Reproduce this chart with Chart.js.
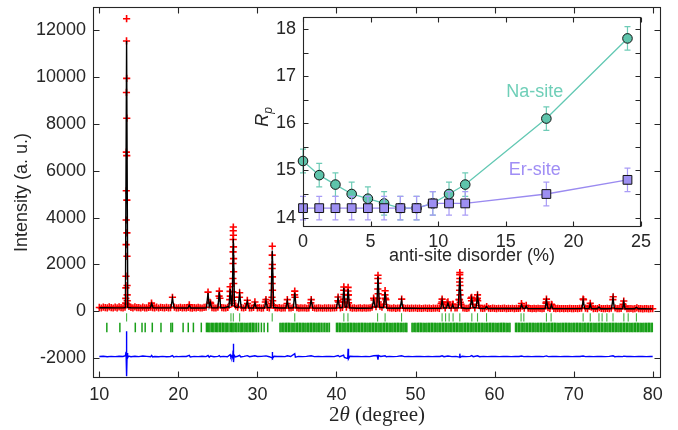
<!DOCTYPE html>
<html><head><meta charset="utf-8">
<script src="https://cdn.jsdelivr.net/npm/chart.js@4"></script>
<style>
html,body{margin:0;padding:0;background:#fff;}
#wrap{position:relative;width:678px;height:430px;overflow:hidden;}
#main{position:absolute;left:0;top:0;}
#inset{position:absolute;left:240px;top:10px;}
</style></head><body>
<div id="wrap"><canvas id="main" width="678" height="430"></canvas><canvas id="inset" width="420" height="265"></canvas></div>
<script>
// ---------------- main pattern data ----------------
const mainXTicks = [10, 20, 30, 40, 50, 60, 70, 80];
const mainYTicks = [-2000, 0, 2000, 4000, 6000, 8000, 10000, 12000];

// observed scan (background part), 2theta grid start/step and counts
const scanStart = 10, scanStep = 0.25;
const obsScan = [
 165,140,180,155, 150,185,160,140, 175,150,190,160, 145,180,2350,210, 170,150,185,155,
 160,140,175,150, 145,170,180,155, 150,175,140,165, 160,145,170,150, 155,600,175,150,
 145,170,150,160, 140,165,150,135, 160,145,170,150, 140,165,175,820, 380,160,150,140,
 175,560,160,150, 140,170,500,330, 1190,230,180,790, 160,140,170,330, 150,140,165,250,
 145,160,135,150, 400,170,150,330, 260,155,140,160, 135,150,140,330, 150,140,165,600,
 160,135,150,140, 145,130,150,360, 170,140,135,150, 140,130,145,135, 150,135,140,145,
 160,400,150,170, 400,180,700,160, 135,150,130,140, 145,130,150,135, 140,150,180,480,
 200,1540,220,180, 300,500,160,140, 130,145,125,140, 135,520,150,130, 140,125,135,130,
 140,125,135,120, 130,140,125,135, 120,135,130,140, 125,330,300,150, 370,250,140,300,
 140,150,500,300, 145,130,125,140, 560,300,150,520, 250,130,125,135, 200,130,120,135,
 125,115,130,120, 125,135,115,125, 120,130,115,125, 120,130,220,135, 250,130,120,115,
 125,115,130,120, 115,125,350,160, 120,280,125,115, 125,115,120,110, 120,110,125,115,
 110,120,115,125, 130,500,135,115, 220,180,115,120, 115,160,120,110, 115,125,110,130,
 620,140,115,110, 120,300,200,115, 110,120,105,115, 150,110,115,105, 110,115,105,110,
 110
];

// observed points on the Bragg peaks [2theta, counts]
const obsPeaks = [
 [13.45,12500],[13.44,11550],[13.46,9950],[13.43,9350],[13.47,8250],[13.42,6800],[13.47,6650],[13.41,5150],
 [13.48,4750],[13.40,3900],[13.49,3350],[13.39,2850],[13.37,1500],[13.51,1100],[13.36,1000],[13.52,700],
 [13.35,550],[13.53,450],[13.34,350],[13.56,300],
 [16.60,350],[16.65,250],[21.38,280],[24.08,350],[25.18,860],[25.15,650],
 [26.55,1050],[26.54,850],[26.57,650],
 [26.95,3600],[26.94,3440],[26.96,3250],[26.93,3070],[26.97,2750],[26.92,2540],[26.98,2250],[26.91,2040],
 [26.99,1690],[26.90,1400],[26.89,830],[27.02,600],[26.87,450],
 [27.73,600],[28.72,470],[29.68,400],[31.08,500],
 [31.88,2780],[31.87,2400],[31.89,2000],[31.86,1830],[31.90,1470],[31.85,1190],[31.91,900],[31.84,600],[31.93,450],
 [33.78,500],[34.72,860],[34.70,700],[36.80,500],[40.20,610],[40.18,450],
 [40.93,1040],[40.92,900],[40.94,720],[40.91,520],[40.96,380],
 [41.47,1020],[41.46,870],[41.48,700],[41.45,500],[41.52,360],
 [44.70,560],[45.24,1400],[45.26,1200],[45.23,950],[45.27,750],[45.22,550],[45.29,400],
 [46.15,880],[46.13,700],[46.17,550],[53.36,520],[53.34,400],[54.10,400],[54.70,300],
 [55.60,1650],[55.59,1560],[55.61,1400],[55.58,1250],[55.62,1100],[55.57,900],[55.63,700],[55.56,500],[55.65,380],
 [57.10,600],[57.08,450],[57.84,700],[57.82,560],[57.86,450],[63.40,330],[66.56,520],[66.54,400],
 [67.19,300],[71.20,520],[72.10,340],[74.96,500],[76.34,440]
];

// calculated profile [2theta, counts]
const calcProfile = [
 [10,150],[11,150],[12,148],[13,148],[13.3,160],[13.45,11550],[13.6,160],[14,150],[15,146],[16,145],
 [16.45,148],[16.62,330],[16.8,148],[17.5,145],[18.5,144],[19.05,150],[19.25,560],[19.45,150],[20.5,142],
 [21.2,142],[21.38,260],[21.55,142],[22.5,140],[23.2,142],[23.55,150],[23.75,780],[23.9,200],[24.05,380],
 [24.2,150],[24.7,145],[25.0,150],[25.18,830],[25.35,150],[25.9,150],[26.3,200],[26.4,170],[26.55,950],
 [26.7,250],[26.8,260],[26.95,3100],[27.1,220],[27.3,170],[27.55,160],[27.75,740],[27.95,150],[28.5,142],
 [28.72,430],[28.9,142],[29.5,140],[29.68,360],[29.85,140],[30.5,138],[30.9,140],[31.08,470],[31.25,150],
 [31.7,160],[31.88,2600],[32.05,160],[32.8,138],[33.6,140],[33.78,460],[33.95,140],[34.55,145],[34.72,800],
 [34.9,150],[35.5,137],[36.6,137],[36.8,480],[37.0,137],[38.0,135],[39.0,134],[40.0,140],[40.2,560],
 [40.4,150],[40.75,160],[40.93,1000],[41.1,180],[41.3,180],[41.47,950],[41.65,150],[42.5,132],[43.5,131],
 [44.5,140],[44.7,500],[44.9,170],[45.1,180],[45.25,1480],[45.45,170],[45.95,150],[46.15,820],[46.35,140],
 [47.2,128],[48.05,130],[48.23,480],[48.4,130],[49.5,127],[50.5,126],[51.5,125],[52.5,124],[53.2,130],
 [53.36,480],[53.55,140],[53.9,140],[54.1,350],[54.3,140],[54.55,135],[54.7,280],[54.85,135],[55.4,150],
 [55.6,1470],[55.8,150],[56.4,122],[56.9,130],[57.1,560],[57.3,150],[57.65,150],[57.84,660],[58.05,130],
 [58.8,122],[58.98,200],[59.15,121],[60.5,120],[61.5,119],[62.5,118],[63.25,120],[63.4,280],[63.6,125],
 [63.85,120],[64.0,220],[64.15,118],[65.5,116],[66.4,120],[66.56,470],[66.75,125],[67.05,118],[67.19,280],
 [67.35,116],[68.5,114],[69.5,113],[70.5,112],[71.05,115],[71.2,470],[71.4,118],[71.95,115],[72.1,300],
 [72.25,112],[73.0,111],[73.2,180],[73.4,111],[74.0,110],[74.8,115],[74.98,570],[75.15,115],[76.2,110],
 [76.34,400],[76.5,110],[77.7,108],[77.94,170],[78.15,108],[79,106],[80,105]
];

// difference (obs - calc) [2theta, counts], plotted with an offset
const diffOffset = -1930;
const diffCurve = [
 [10,0],[10.5,10],[11,-10],[11.5,5],[12,-5],[12.5,10],[13,0],[13.3,30],[13.38,200],[13.42,-450],[13.45,1080],
 [13.48,-840],[13.52,150],[13.58,-60],[13.7,20],[14,-10],[14.5,10],[15,-5],[15.5,20],[16,5],[16.5,-10],
 [16.62,45],[16.75,-20],[17,0],[17.5,-15],[18,5],[18.5,-10],[19,0],[19.25,40],[19.4,-25],[19.7,5],[20,-5],
 [20.5,5],[21,0],[21.38,50],[21.5,-20],[22,5],[22.5,-5],[23,10],[23.5,-5],[23.75,40],[23.9,-30],[24.05,20],
 [24.5,-10],[25,5],[25.18,35],[25.3,-15],[25.7,5],[26.2,-10],[26.55,80],[26.65,-40],[26.8,20],[26.88,-60],
 [26.92,250],[26.95,-240],[26.97,545],[27.0,-240],[27.05,60],[27.2,-20],[27.5,10],[27.75,50],[27.9,-20],
 [28.3,5],[28.72,35],[29,-10],[29.68,30],[30,0],[30.5,5],[31.08,25],[31.5,-10],[31.85,-60],[31.88,190],
 [31.92,-80],[32.1,10],[32.5,0],[33,5],[33.5,-5],[33.78,30],[34.2,0],[34.72,120],[34.8,-30],[35.2,5],
 [35.7,-5],[36.2,5],[36.8,30],[37.2,-5],[37.7,5],[38.2,-5],[38.7,5],[39.2,0],[39.7,-5],[40.2,40],[40.4,-10],
 [40.9,60],[41.0,-40],[41.42,-90],[41.47,330],[41.52,-100],[41.7,10],[42.2,0],[42.7,5],[43.2,-5],[43.7,5],
 [44.2,-5],[44.7,30],[45.15,40],[45.25,-140],[45.32,40],[45.6,0],[46.15,30],[46.3,-15],[46.7,5],[47.2,-5],
 [47.7,5],[48.23,30],[48.6,-5],[49.1,5],[49.6,-5],[50.1,5],[50.6,0],[51.1,-5],[51.6,5],[52.1,-5],[52.6,5],
 [53.1,0],[53.36,30],[53.6,-10],[54.1,20],[54.6,-5],[55.1,5],[55.55,-30],[55.6,120],[55.65,-40],[55.9,10],
 [56.4,-5],[56.9,5],[57.1,35],[57.3,-10],[57.84,30],[58.1,-10],[58.6,5],[59.1,-5],[59.6,5],[60.1,0],
 [60.6,-5],[61.1,5],[61.6,0],[62.1,-5],[62.6,5],[63.1,0],[63.4,20],[63.7,-5],[64.2,5],[64.7,-5],[65.2,0],
 [65.7,5],[66.2,-5],[66.56,25],[66.8,-5],[67.3,5],[67.8,0],[68.3,-5],[68.8,5],[69.3,0],[69.8,-5],[70.3,5],
 [70.8,0],[71.2,20],[71.5,-5],[72.0,5],[72.5,-5],[73.0,5],[73.5,0],[74.0,-5],[74.5,5],[74.98,30],[75.2,-10],
 [75.7,5],[76.2,-5],[76.34,15],[76.7,0],[77.2,5],[77.7,-5],[78.2,5],[78.7,0],[79.2,-5],[79.7,5],[80,0]
];

// Bragg reflection positions (2theta)
const phase1Row = -260, phase2Row = -690;
const phase1Refl = [13.45,26.65,26.95,27.75,31.87,34.72,40.93,41.45,45.2,46.15,48.23,53.36,53.8,54.25,54.75,
 55.6,57.12,57.84,58.98,63.35,63.7,66.56,67.15,71.2,72.1,73.2,73.6,74.2,74.98,76.35,76.9,77.94];
const phase2Refl = [10.95,12.6,14.55,15.4,15.8,16.7,17.8,19.05,19.25,20.6,21.25,21.9,22.9,
 23.55,23.7,23.85,24.0,24.2,24.35,24.5,24.7,24.85,25.0,25.2,25.35,25.55,25.7,25.9,26.05,26.2,26.4,26.6,26.75,
 26.9,27.05,27.25,27.4,27.6,27.8,27.95,28.1,28.3,28.45,28.65,28.8,29.0,29.15,29.35,29.5,29.7,29.9,30.15,30.5,
 30.85,31.3,
 32.85,33.0,33.2,33.35,33.55,33.7,33.9,34.05,34.25,34.4,34.6,34.75,34.95,35.1,35.3,35.45,35.65,35.8,36.0,
 36.15,36.35,36.5,36.7,36.85,37.05,37.2,37.4,37.55,37.75,37.9,38.1,38.3,38.5,38.7,38.9,39.1,
 40.0,40.15,40.35,40.5,40.7,40.85,41.05,41.2,41.4,41.55,41.75,41.9,42.1,42.25,42.45,42.6,42.8,42.95,43.15,
 43.3,43.5,43.65,43.85,44.0,44.2,44.35,44.55,44.7,44.9,45.05,45.25,45.4,45.6,45.75,45.95,46.1,46.3,46.45,
 46.65,46.8,47.0,47.15,47.35,47.5,47.7,47.85,48.05,48.2,48.4,48.55,48.75,48.9,49.55,49.7,49.9,50.05,50.25,
 50.4,50.6,50.75,50.95,51.1,51.3,51.45,51.65,51.8,52.0,52.15,52.35,52.5,52.7,52.85,53.05,53.2,53.4,53.55,
 53.75,53.9,54.1,54.25,54.45,54.6,54.8,54.95,55.15,55.3,55.5,55.65,55.85,56.0,56.2,56.35,56.55,56.7,56.9,
 57.05,57.25,57.4,57.6,57.75,57.95,58.1,58.3,58.45,58.65,58.8,59.0,59.15,59.35,59.5,59.7,59.85,60.05,60.2,
 60.4,60.55,60.75,60.9,61.1,61.25,61.45,61.6,61.8,61.95,
 62.65,62.8,63.0,63.15,63.35,63.5,63.7,63.85,64.05,64.2,64.4,64.55,64.75,64.9,65.1,65.25,65.45,65.6,65.8,
 65.95,66.15,66.3,66.5,66.65,66.85,67.0,67.2,67.35,67.55,67.7,67.9,68.05,68.25,68.4,68.6,68.75,68.95,69.1,
 69.3,69.45,69.65,69.8,70.0,70.15,70.35,70.5,70.7,70.85,71.05,71.2,71.4,71.55,71.75,71.9,72.1,72.25,72.45,
 72.6,72.8,72.95,73.15,73.3,73.5,73.65,73.85,74.0,74.2,74.35,74.55,74.7,74.9,75.05,75.25,75.4,75.6,75.75,
 75.95,76.1,76.3,76.45,76.65,76.8,77.0,77.15,77.35,77.5,77.7,77.85,78.05,78.2,78.4,78.55,78.75,78.9,79.1,
 79.25,79.45,79.6,79.8,79.95];

// ---------------- inset data ----------------
const disorder = [0, 1.2, 2.4, 3.6, 4.8, 6.0, 7.2, 8.4, 9.6, 10.8, 12, 18, 24];
const naRp  = [15.2, 14.9, 14.7, 14.5, 14.4, 14.3, 14.2, 14.2, 14.3, 14.5, 14.7, 16.1, 17.8];
const naErr = [0.25,0.25,0.25,0.25,0.25,0.25,0.25,0.25,0.25,0.25,0.25,0.25,0.25];
const erRp  = [14.2, 14.2, 14.2, 14.2, 14.2, 14.2, 14.2, 14.2, 14.3, 14.3, 14.3, 14.5, 14.8];
const erErr = [0.25,0.25,0.25,0.25,0.25,0.25,0.25,0.25,0.25,0.25,0.25,0.25,0.25];
const insetXTicks = [0, 5, 10, 15, 20, 25];
const insetYTicks = [14, 15, 16, 17, 18];
const insetYMarks = [14, 14.5, 15, 15.5, 16, 16.5, 17, 17.5, 18];

// ---------------- styling ----------------
const SANS = "'Liberation Sans', Arimo, Arial, Helvetica, sans-serif";
const SERIF = "'Liberation Serif', 'Times New Roman', serif";
const INK = '#262626';
Chart.defaults.font.family = SANS;
Chart.defaults.color = INK;

const framePlugin = {
  id: 'frame',
  afterDatasetsDraw(chart, args, o) {
    const {ctx, chartArea: a, scales} = chart;
    const L = Math.round(a.left) + 0.5, R = Math.round(a.right) - 0.5;
    const T = Math.round(a.top) + 0.5, B = Math.round(a.bottom) - 0.5;
    ctx.save();
    ctx.strokeStyle = o.color; ctx.lineWidth = o.width;
    ctx.strokeRect(L, T, R - L, B - T);
    ctx.beginPath();
    o.xMarks.forEach(v => {
      const p = Math.round(scales.x.getPixelForValue(v)) + 0.5;
      ctx.moveTo(p, B); ctx.lineTo(p, B - o.len);
      ctx.moveTo(p, T); ctx.lineTo(p, T + o.len);
    });
    o.yMarks.forEach(v => {
      const p = Math.round(scales.y.getPixelForValue(v)) + 0.5;
      ctx.moveTo(L, p); ctx.lineTo(L + o.len, p);
      ctx.moveTo(R, p); ctx.lineTo(R - o.len, p);
    });
    ctx.stroke();
    ctx.restore();
  }
};

function drawParts(ctx, parts, cx, y) {
  let total = 0;
  parts.forEach(p => { ctx.font = p[1]; total += ctx.measureText(p[0]).width; });
  let x = cx - total / 2;
  parts.forEach(p => { ctx.font = p[1]; ctx.fillText(p[0], x, y); x += ctx.measureText(p[0]).width; });
}

const mainTitles = {
  id: 'mainTitles',
  afterDraw(chart) {
    const {ctx, chartArea: a} = chart;
    ctx.save();
    ctx.fillStyle = INK;
    ctx.font = '18px ' + SANS;
    ctx.translate(22, (a.top + a.bottom) / 2);
    ctx.rotate(-Math.PI / 2);
    ctx.textAlign = 'center'; ctx.textBaseline = 'middle';
    ctx.fillText('Intensity (a. u.)', 0, 0);
    ctx.restore();
    ctx.save();
    ctx.fillStyle = INK; ctx.textBaseline = 'alphabetic'; ctx.textAlign = 'left';
    drawParts(ctx, [['2', '21px ' + SERIF], ['θ', 'italic 21px ' + SERIF], [' (degree)', '21px ' + SERIF]], (a.left + a.right) / 2, 421);
    ctx.restore();
  }
};

function fixedTicks(list) { return s => { s.ticks = list.map(v => ({value: v})); }; }

const obsPts = obsScan.map((c, i) => ({x: scanStart + i * scanStep, y: c}))
  .concat(obsPeaks.map(p => ({x: p[0], y: p[1]})));

new Chart(document.getElementById('main'), {
  type: 'scatter',
  data: { datasets: [
    { label: 'Calculated', data: calcProfile.map(p => ({x: p[0], y: p[1]})), showLine: true,
      borderColor: '#000000', borderWidth: 1.4, pointRadius: 0, tension: 0 },
    { label: 'Observed', data: obsPts, showLine: false, pointStyle: 'cross', pointRadius: 3.6,
      pointBorderColor: '#ff0000', pointBackgroundColor: '#ff0000', pointBorderWidth: 1.6 },
    { label: 'Difference', data: diffCurve.map(p => ({x: p[0], y: diffOffset + p[1]})), showLine: true,
      borderColor: '#0000ff', borderWidth: 1.4, pointRadius: 0, tension: 0 },
    { label: 'Phase 1', data: phase1Refl.map(v => ({x: v, y: phase1Row})), showLine: false,
      pointStyle: 'line', pointRotation: 90, pointRadius: 4.2, pointBorderColor: 'rgba(20,160,20,0.8)', pointBorderWidth: 1.1 },
    { label: 'Phase 2', data: phase2Refl.map(v => ({x: v, y: phase2Row})), showLine: false,
      pointStyle: 'line', pointRotation: 90, pointRadius: 4.8, pointBorderColor: 'rgba(0,150,0,0.9)', pointBorderWidth: 1.5 }
  ]},
  options: {
    responsive: false, animation: false, devicePixelRatio: 1, events: [],
    layout: { padding: { top: 7, right: 17, left: 0, bottom: 0 } },
    plugins: { legend: { display: false }, tooltip: { enabled: false },
      frame: { color: INK, width: 1.1, len: 6, xMarks: mainXTicks, yMarks: mainYTicks } },
    scales: {
      x: { type: 'linear', min: 9.2, max: 81.05,
        grid: { display: false, drawTicks: false }, border: { display: false },
        ticks: { padding: 6, color: INK, font: { size: 18 }, callback: v => String(v), maxRotation: 0 },
        afterBuildTicks: fixedTicks(mainXTicks),
        afterFit(s) { s.height = 52; s.paddingLeft = 0; s.paddingRight = 0; } },
      y: { type: 'linear', min: -2850, max: 13000,
        grid: { display: false, drawTicks: false }, border: { display: false },
        ticks: { padding: 7, color: INK, font: { size: 18 }, callback: v => String(v) },
        afterBuildTicks: fixedTicks(mainYTicks),
        afterFit(s) { s.width = 93; s.paddingTop = 0; s.paddingBottom = 0; } }
    }
  },
  plugins: [framePlugin, mainTitles]
});

// ---------------- inset ----------------
const errorBars = {
  id: 'errorBars',
  beforeDatasetDraw(chart, args) {
    const ds = chart.data.datasets[args.index];
    if (!ds.errorValues) return;
    const {ctx} = chart, ys = chart.scales.y;
    ctx.save();
    ctx.strokeStyle = ds.errorColor; ctx.lineWidth = 1.2;
    ctx.beginPath();
    args.meta.data.forEach((pt, i) => {
      const v = ds.data[i].y, e = ds.errorValues[i];
      const x = pt.x, y1 = ys.getPixelForValue(v + e), y2 = ys.getPixelForValue(v - e);
      ctx.moveTo(x, y1); ctx.lineTo(x, y2);
      ctx.moveTo(x - 3, y1); ctx.lineTo(x + 3, y1);
      ctx.moveTo(x - 3, y2); ctx.lineTo(x + 3, y2);
    });
    ctx.stroke();
    ctx.restore();
  }
};

const insetTexts = {
  id: 'insetTexts',
  afterDraw(chart, args, o) {
    const {ctx, chartArea: a, scales} = chart;
    ctx.save();
    ctx.textAlign = 'center'; ctx.textBaseline = 'middle';
    o.notes.forEach(n => {
      ctx.fillStyle = n.color; ctx.font = '18px ' + SANS;
      ctx.fillText(n.text, scales.x.getPixelForValue(n.x), scales.y.getPixelForValue(n.y));
    });
    ctx.fillStyle = INK; ctx.font = '18px ' + SANS;
    ctx.fillText('anti-site disorder (%)', (a.left + a.right) / 2, 246);
    ctx.restore();
    ctx.save();
    ctx.fillStyle = INK;
    ctx.translate(22, 107);
    ctx.rotate(-Math.PI / 2);
    ctx.textBaseline = 'alphabetic';
    ctx.font = 'italic 18px ' + SANS;
    const wR = ctx.measureText('R').width;
    ctx.font = 'italic 12px ' + SANS;
    const wp = ctx.measureText('p').width;
    const x0 = -(wR + wp) / 2;
    ctx.font = 'italic 18px ' + SANS;
    ctx.fillText('R', x0, 6);
    ctx.font = 'italic 12px ' + SANS;
    ctx.fillText('p', x0 + wR, 10);
    ctx.restore();
  }
};

new Chart(document.getElementById('inset'), {
  type: 'scatter',
  data: { datasets: [
    { label: 'Er-site', data: disorder.map((d, i) => ({x: d, y: erRp[i]})), showLine: true, clip: false,
      borderColor: '#9a8af0', borderWidth: 1.3, tension: 0,
      pointStyle: 'rect', pointRadius: 6.2, pointBackgroundColor: '#9d8ff2', pointBorderColor: '#111111', pointBorderWidth: 1,
      errorValues: erErr, errorColor: '#a99cf6' },
    { label: 'Na-site', data: disorder.map((d, i) => ({x: d, y: naRp[i]})), showLine: true, clip: false,
      borderColor: '#62c8b3', borderWidth: 1.3, tension: 0,
      pointStyle: 'circle', pointRadius: 4.8, pointBackgroundColor: '#5ec4ab', pointBorderColor: '#111111', pointBorderWidth: 1,
      errorValues: naErr, errorColor: '#6ecbb6' }
  ]},
  options: {
    responsive: false, animation: false, devicePixelRatio: 1, events: [],
    layout: { padding: { top: 5, right: 19, left: 0, bottom: 0 } },
    plugins: { legend: { display: false }, tooltip: { enabled: false },
      frame: { color: INK, width: 1.1, len: 5, xMarks: insetXTicks, yMarks: insetYMarks },
      insetTexts: { notes: [ { text: 'Na-site', x: 17.15, y: 16.66, color: '#6fcfb8' },
                             { text: 'Er-site', x: 17.15, y: 15.0, color: '#a08ef5' } ] } },
    scales: {
      x: { type: 'linear', min: 0, max: 25,
        grid: { display: false, drawTicks: false }, border: { display: false },
        ticks: { padding: 4, color: INK, font: { size: 18 }, callback: v => String(v), maxRotation: 0 },
        afterBuildTicks: fixedTicks(insetXTicks),
        afterFit(s) { s.height = 48; s.paddingLeft = 0; s.paddingRight = 0; } },
      y: { type: 'linear', min: 13.8, max: 18.25,
        grid: { display: false, drawTicks: false }, border: { display: false },
        ticks: { padding: 7, color: INK, font: { size: 18 }, callback: v => String(v) },
        afterBuildTicks: fixedTicks(insetYTicks),
        afterFit(s) { s.width = 63; s.paddingTop = 0; s.paddingBottom = 0; } }
    }
  },
  plugins: [errorBars, framePlugin, insetTexts]
});
</script>
</body></html>
